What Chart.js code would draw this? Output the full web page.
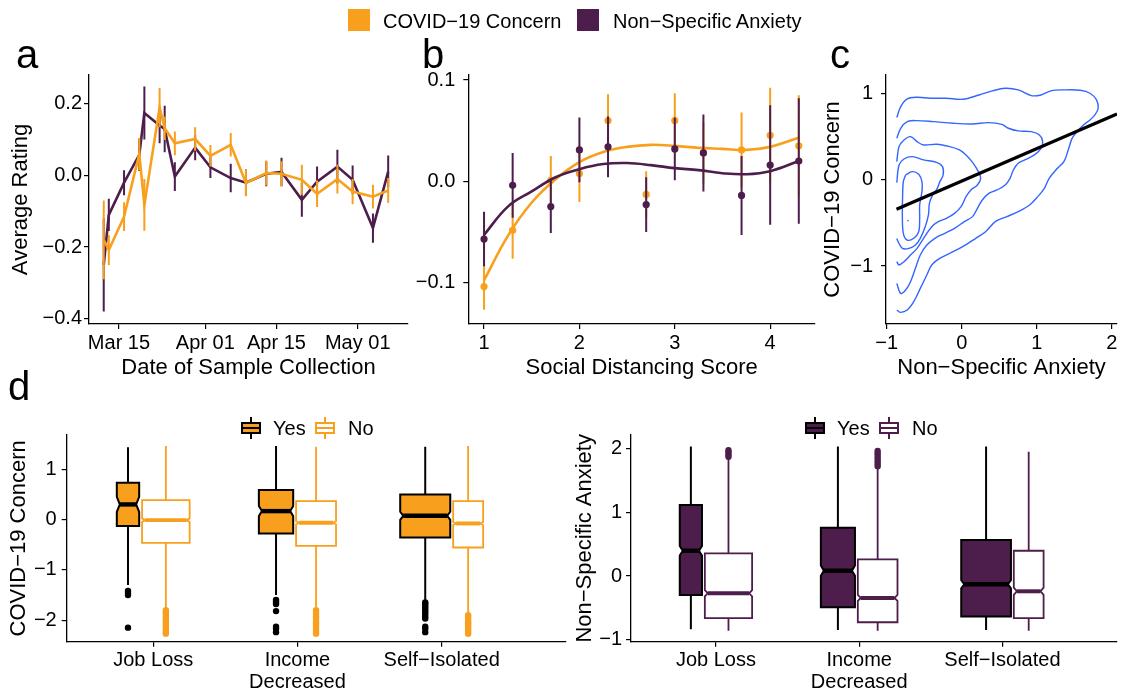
<!DOCTYPE html>
<html>
<head>
<meta charset="utf-8">
<script src="https://cdn.jsdelivr.net/npm/chart.js@4.4.0/dist/chart.umd.min.js"></script>
<style>
  body { margin: 0; background: #fff; }
  #fig { position: relative; width: 1121px; height: 692px; overflow: hidden; font-family: "Liberation Sans", Arial, Helvetica, sans-serif; color: #000; }
  #fig canvas { position: absolute; left: 0; top: 0; }
  .letter { position: absolute; font-size: 40px; line-height: 40px; }
  .txt { position: absolute; font-size: 20px; line-height: 22px; white-space: nowrap; }
  .sw { position: absolute; width: 22px; height: 22px; }
  .key { position: absolute; width: 20px; height: 22px; }
  .key .wh { position: absolute; left: 9px; top: 0; width: 2px; height: 22px; }
  .key .bx { position: absolute; left: 0; top: 5px; width: 16px; height: 8px; border: 2px solid; }
  .key .md { position: absolute; left: 2px; top: 10px; width: 16px; height: 2px; }
</style>
</head>
<body>
<div id="fig">
  <canvas id="chartA" width="1121" height="692"></canvas>
  <canvas id="chartB" width="1121" height="692"></canvas>
  <canvas id="chartC" width="1121" height="692"></canvas>
  <canvas id="chartD1" width="1121" height="692"></canvas>
  <canvas id="chartD2" width="1121" height="692"></canvas>

  <div class="sw" style="left:348px;top:9px;background:#F8A01D"></div>
  <div class="txt" style="left:383px;top:10px">COVID−19 Concern</div>
  <div class="sw" style="left:577px;top:9px;background:#4D1D4B"></div>
  <div class="txt" style="left:613px;top:10px">Non−Specific Anxiety</div>

  <div class="letter" style="left:16px;top:34px">a</div>
  <div class="letter" style="left:422px;top:34px">b</div>
  <div class="letter" style="left:830px;top:34px">c</div>
  <div class="letter" style="left:8px;top:366px">d</div>

  <div class="key" style="left:241px;top:417px"><div class="wh" style="background:#000"></div><div class="bx" style="background:#F8A01D;border-color:#000"></div><div class="md" style="background:#000"></div></div>
  <div class="txt" style="left:273px;top:417px">Yes</div>
  <div class="key" style="left:315px;top:417px"><div class="wh" style="background:#F8A01D"></div><div class="bx" style="background:#fff;border-color:#F8A01D"></div><div class="md" style="background:#F8A01D"></div></div>
  <div class="txt" style="left:348px;top:417px">No</div>

  <div class="key" style="left:805px;top:417px"><div class="wh" style="background:#000"></div><div class="bx" style="background:#4D1D4B;border-color:#000"></div><div class="md" style="background:#000"></div></div>
  <div class="txt" style="left:837px;top:417px">Yes</div>
  <div class="key" style="left:879px;top:417px"><div class="wh" style="background:#4D1D4B"></div><div class="bx" style="background:#fff;border-color:#4D1D4B"></div><div class="md" style="background:#4D1D4B"></div></div>
  <div class="txt" style="left:912px;top:417px">No</div>
</div>

<script>
// ---------- panel a : ratings by date of sample collection ----------
const sampleDates = ['2020-03-12', '2020-03-13', '2020-03-16', '2020-03-19', '2020-03-20', '2020-03-23', '2020-03-24',
  '2020-03-26', '2020-03-30', '2020-04-02', '2020-04-06', '2020-04-09', '2020-04-13', '2020-04-16', '2020-04-20',
  '2020-04-23', '2020-04-27', '2020-04-30', '2020-05-04', '2020-05-07'];
const covidByDate = [-0.18, -0.208, -0.115, 0.06, -0.082, 0.19, 0.132, 0.09, 0.102, 0.055, 0.086, -0.021, 0.007, 0.005,
  -0.012, -0.051, -0.01, -0.045, -0.059, -0.042];
const covidByDateSE = [0.11, 0.042, 0.04, 0.045, 0.072, 0.055, 0.033, 0.033, 0.033, 0.03, 0.033, 0.037, 0.035, 0.035,
  0.042, 0.037, 0.04, 0.035, 0.033, 0.035];
const anxietyByDate = [-0.25, -0.11, -0.02, 0.058, 0.175, 0.14, 0.13, -0.003, 0.078, 0.023, -0.007, -0.02, 0.005, 0.01,
  -0.068, -0.017, 0.025, -0.012, -0.147, 0.011];
const anxietyByDateSE = [0.13, 0.045, 0.035, 0.045, 0.074, 0.05, 0.065, 0.04, 0.035, 0.03, 0.04, 0.037, 0.035, 0.04,
  0.047, 0.042, 0.047, 0.04, 0.041, 0.045];
const dateTicks = ['2020-03-15', '2020-04-01', '2020-04-15', '2020-05-01'];
const dateTickLabels = ['Mar 15', 'Apr 01', 'Apr 15', 'May 01'];
const dateRange = ['2020-03-09', '2020-05-11'];
const ratingTicks = [-0.4, -0.2, 0, 0.2];

// ---------- panel b : ratings by social distancing score ----------
const distScores = [1, 1.3, 1.7, 2, 2.3, 2.7, 3, 3.3, 3.7, 4, 4.3];
const covidByDist = [-0.104, -0.0485, 0.001, 0.0076, 0.06, -0.013, 0.06, 0.028, 0.031, 0.0455, 0.035];
const covidByDistSE = [0.023, 0.028, 0.024, 0.028, 0.026, 0.023, 0.027, 0.03, 0.037, 0.047, 0.05];
const anxietyByDist = [-0.057, -0.004, -0.025, 0.031, 0.034, -0.023, 0.032, 0.028, -0.014, 0.016, 0.02];
const anxietyByDistSE = [0.027, 0.032, 0.026, 0.032, 0.03, 0.027, 0.031, 0.038, 0.039, 0.059, 0.062];
const smoothX = [1, 1.25, 1.5, 1.75, 2, 2.25, 2.5, 2.75, 3, 3.25, 3.5, 3.75, 4, 4.3];
const covidSmooth = [-0.098, -0.054, -0.021, 0.002, 0.019, 0.029, 0.034, 0.036, 0.035, 0.033, 0.032, 0.031, 0.034, 0.043];
const anxietySmooth = [-0.053, -0.025, -0.01, 0.004, 0.012, 0.017, 0.018, 0.016, 0.013, 0.011, 0.008, 0.007, 0.01, 0.02];
const distTicks = [1, 2, 3, 4];
const distRatingTicks = [-0.1, 0, 0.1];

// ---------- panel c : 2d density contours + linear fit ----------
const contour1 = [[-0.866, 0.725], [-0.814, 0.853], [-0.727, 0.942], [-0.596, 0.961], [-0.422, 0.95], [-0.205, 0.95],
  [0.013, 0.938], [0.231, 0.988], [0.405, 1.035], [0.579, 1.066], [0.753, 1.047], [0.927, 0.981], [1.057, 0.988],
  [1.188, 1.035], [1.362, 1.047], [1.58, 1.043], [1.71, 1.008], [1.797, 0.93], [1.819, 0.833], [1.775, 0.756],
  [1.71, 0.698], [1.623, 0.64], [1.536, 0.562], [1.471, 0.484], [1.427, 0.368], [1.362, 0.213], [1.275, 0.136],
  [1.166, 0.019], [1.101, -0.097], [1.014, -0.194], [0.905, -0.291], [0.753, -0.368], [0.601, -0.426], [0.448, -0.484],
  [0.318, -0.601], [0.187, -0.678], [0.013, -0.775], [-0.161, -0.853], [-0.292, -0.911], [-0.4, -0.988],
  [-0.466, -1.105], [-0.553, -1.26], [-0.64, -1.415], [-0.727, -1.512], [-0.814, -1.539], [-0.866, -1.512]];
const contour2 = [[-0.866, 0.484], [-0.814, 0.601], [-0.727, 0.678], [-0.596, 0.69], [-0.379, 0.678], [-0.117, 0.659],
  [0.144, 0.651], [0.361, 0.667], [0.535, 0.647], [0.622, 0.601], [0.753, 0.57], [0.927, 0.562], [1.036, 0.523],
  [1.079, 0.446], [1.057, 0.368], [0.97, 0.291], [0.84, 0.233], [0.753, 0.194], [0.688, 0.116], [0.644, 0.019],
  [0.579, -0.058], [0.47, -0.116], [0.361, -0.155], [0.274, -0.233], [0.209, -0.329], [0.144, -0.426], [0.035, -0.484],
  [-0.096, -0.562], [-0.226, -0.62], [-0.357, -0.678], [-0.466, -0.756], [-0.553, -0.872], [-0.618, -1.027],
  [-0.683, -1.182], [-0.748, -1.279], [-0.814, -1.318], [-0.866, -1.202]];
const contour3 = [[-0.866, 0.213], [-0.836, 0.388], [-0.77, 0.465], [-0.683, 0.504], [-0.596, 0.446], [-0.509, 0.407],
  [-0.335, 0.415], [-0.161, 0.388], [-0.03, 0.349], [0.057, 0.291], [0.144, 0.205], [0.222, 0.097], [0.252, 0.019],
  [0.209, -0.058], [0.122, -0.116], [0.057, -0.194], [-0.009, -0.31], [-0.096, -0.388], [-0.205, -0.446],
  [-0.313, -0.484], [-0.4, -0.543], [-0.509, -0.678], [-0.596, -0.795], [-0.683, -0.872], [-0.77, -0.95],
  [-0.836, -0.988], [-0.866, -0.95]];
const contour4 = [[-0.866, -0.03], [-0.836, 0.174], [-0.77, 0.244], [-0.661, 0.271], [-0.509, 0.233], [-0.335, 0.205],
  [-0.257, 0.155], [-0.248, 0.058], [-0.292, -0.019], [-0.326, -0.097], [-0.387, -0.174], [-0.431, -0.271],
  [-0.444, -0.407], [-0.487, -0.543], [-0.553, -0.678], [-0.618, -0.756], [-0.705, -0.795], [-0.792, -0.795],
  [-0.849, -0.717], [-0.866, -0.68]];
const contour5 = [[-0.748, 0.058], [-0.661, 0.097], [-0.574, 0.066], [-0.531, -0.019], [-0.531, -0.136],
  [-0.561, -0.291], [-0.561, -0.446], [-0.574, -0.601], [-0.64, -0.678], [-0.727, -0.698], [-0.779, -0.62],
  [-0.792, -0.407], [-0.788, -0.174], [-0.779, -0.019], [-0.748, 0.058]];
const densityPeak = [[-0.718, -0.473]];
const fitLine = [[-0.87, -0.341], [2.07, 0.767]];
const anxTicksC = [-1, 0, 1, 2];
const covidTicksC = [-1, 0, 1];

// ---------- panel d : boxplots by life event ----------
const eventLabels = ['Job Loss', ['Income', 'Decreased'], 'Self−Isolated'];
// [lower whisker, Q1, median, Q3, upper whisker]
const covidYesBox = [[-1.30, -0.126, 0.306, 0.739, 1.444], [-1.50, -0.273, 0.173, 0.592, 1.47], [-1.60, -0.353, 0.08, 0.506, 1.457]];
const covidNoBox = [[-1.77, -0.459, -0.007, 0.393, 1.47], [-1.74, -0.519, -0.06, 0.373, 1.457], [-1.87, -0.552, -0.073, 0.373, 1.47]];
const covidYesNotch = [0.15, 0.10, 0.08];
const covidNoNotch = [0.035, 0.03, 0.03];
const covidYesOut = [[-1.42, -1.46, -1.50, -2.15], [-1.60, -1.64, -1.68, -1.82, -2.13, -2.17, -2.24],
  [-1.65, -1.68, -1.72, -1.76, -1.80, -1.84, -1.88, -1.93, -1.97, -2.13, -2.17, -2.24]];
const covidNoOut = [[-1.80, -1.84, -1.88, -1.93, -1.97, -2.02, -2.06, -2.10, -2.15, -2.19, -2.23, -2.27],
  [-1.80, -1.84, -1.88, -1.93, -1.97, -2.02, -2.06, -2.10, -2.15, -2.19, -2.23, -2.27],
  [-1.90, -1.93, -1.97, -2.02, -2.06, -2.10, -2.15, -2.19, -2.23, -2.27]];
const anxYesBox = [[-0.835, -0.297, 0.396, 1.111, 2.03], [-0.845, -0.49, 0.083, 0.756, 2.03], [-0.845, -0.636, -0.13, 0.563, 2.03]];
const anxNoBox = [[-0.86, -0.662, -0.271, 0.355, 1.85], [-0.86, -0.725, -0.344, 0.26, 1.70], [-0.86, -0.662, -0.24, 0.396, 1.946]];
const anxYesNotch = [0.075, 0.08, 0.065];
const anxNoNotch = [0.05, 0.047, 0.057];
const anxYesOut = [[], [], []];
const anxNoOut = [[1.87, 1.90, 1.94, 1.97], [1.72, 1.76, 1.80, 1.84, 1.88, 1.92, 1.96], []];
const covidTicksD = [-2, -1, 0, 1];
const anxTicksD = [-1, 0, 1, 2];

// box widths (varwidth) in category units, and gap between the dodged boxes
const yesWidth = [0.155, 0.238, 0.347];
const noWidth = [0.33, 0.277, 0.208];
const dodgeGap = 0.02;

const FONT = '"Liberation Sans", Arial, Helvetica, sans-serif';
const ORANGE = '#F8A01D';
const PURPLE = '#4D1D4B';
const BLUE = '#3366FF';

Chart.defaults.font.family = FONT;
Chart.defaults.animation = false;
Chart.defaults.events = [];
Chart.defaults.plugins.legend.display = false;
Chart.defaults.plugins.tooltip.enabled = false;

function toDay(s) {
  const p = s.split('-').map(Number);
  return (Date.UTC(p[0], p[1] - 1, p[2]) - Date.UTC(2020, 2, 1)) / 864e5;
}
function fmt(d) {
  return v => (v < 0 ? '−' : '') + Math.abs(v).toFixed(d);
}

// axis with fixed box size so every panel lands where the figure has it
function axis(o) {
  return {
    type: 'linear', min: o.min, max: o.max,
    afterBuildTicks: s => { s.ticks = o.ticks.map(v => ({ value: v })); },
    afterFit: s => { if (s.isHorizontal()) s.height = o.size; else s.width = o.size; },
    grid: { drawOnChartArea: false, drawTicks: true, tickLength: 5, color: '#000', lineWidth: 1.2 },
    border: { display: true, color: '#000', width: 1.3 },
    ticks: {
      color: '#000', font: { family: FONT, size: 20, lineHeight: 1.1 }, padding: o.tickPad,
      maxRotation: 0, autoSkip: false,
      callback: o.labels ? (v, i) => o.labels[i] : o.fmt
    },
    title: {
      display: !!o.title, text: o.title || '', color: '#000', font: { family: FONT, size: 22 },
      padding: { top: o.titlePad || 0, bottom: o.titlePad || 0 }
    }
  };
}

const errorBarPlugin = {
  id: 'errorBars',
  afterDatasetDraw(chart, args) {
    const ds = chart.data.datasets[args.index];
    if (!ds.errorBars) return;
    const ys = chart.scales.y, ctx = chart.ctx;
    ctx.save();
    ctx.strokeStyle = ds.barColor;
    ctx.lineWidth = ds.errorBarWidth;
    ctx.beginPath();
    args.meta.data.forEach((pt, i) => {
      const v = ds.data[i].y, e = ds.errorBars[i];
      ctx.moveTo(pt.x, ys.getPixelForValue(v - e));
      ctx.lineTo(pt.x, ys.getPixelForValue(v + e));
    });
    ctx.stroke();
    ctx.restore();
  }
};

function pairs(xs, ys) { return xs.map((x, i) => ({ x: x, y: ys[i] })); }

// ---------- chart a ----------
const days = sampleDates.map(toDay);
new Chart(document.getElementById('chartA'), {
  type: 'scatter',
  data: {
    datasets: [
      { data: pairs(days, covidByDate), showLine: true, borderColor: ORANGE, borderWidth: 2.6, pointRadius: 0,
        errorBars: covidByDateSE, barColor: ORANGE, errorBarWidth: 2 },
      { data: pairs(days, anxietyByDate), showLine: true, borderColor: PURPLE, borderWidth: 2.6, pointRadius: 0,
        errorBars: anxietyByDateSE, barColor: PURPLE, errorBarWidth: 2 }
    ]
  },
  options: {
    responsive: false,
    layout: { padding: { left: 0, top: 75, right: 713, bottom: 308 } },
    scales: {
      x: axis({ min: toDay(dateRange[0]) + 0.1, max: toDay(dateRange[1]) - 0.1, ticks: dateTicks.map(toDay), labels: dateTickLabels,
        size: 60, tickPad: 3, title: 'Date of Sample Collection', titlePad: 2.8 }),
      y: axis({ min: -0.415, max: 0.281, ticks: ratingTicks, fmt: fmt(1), size: 89, tickPad: 2,
        title: 'Average Rating', titlePad: 7.8 })
    }
  },
  plugins: [errorBarPlugin]
});

// ---------- chart b ----------
new Chart(document.getElementById('chartB'), {
  type: 'scatter',
  data: {
    datasets: [
      { data: pairs(distScores, anxietyByDist), backgroundColor: PURPLE, pointRadius: 3.6, borderWidth: 0,
        errorBars: anxietyByDistSE, barColor: PURPLE, errorBarWidth: 2 },
      { data: pairs(smoothX, anxietySmooth), showLine: true, borderColor: PURPLE, borderWidth: 2.6, pointRadius: 0, tension: 0.4 },
      { data: pairs(distScores, covidByDist), backgroundColor: ORANGE, pointRadius: 3.6, borderWidth: 0,
        errorBars: covidByDistSE, barColor: ORANGE, errorBarWidth: 2 },
      { data: pairs(smoothX, covidSmooth), showLine: true, borderColor: ORANGE, borderWidth: 2.6, pointRadius: 0, tension: 0.4 }
    ]
  },
  options: {
    responsive: false,
    layout: { padding: { left: 400, top: 75, right: 306, bottom: 308 } },
    scales: {
      x: axis({ min: 0.835, max: 4.47, ticks: distTicks, fmt: fmt(0), size: 60, tickPad: 3,
        title: 'Social Distancing Score', titlePad: 2.8 }),
      y: axis({ min: -0.141, max: 0.105, ticks: distRatingTicks, fmt: fmt(1), size: 68.3, tickPad: 8 })
    }
  },
  plugins: [errorBarPlugin]
});

// ---------- chart c ----------
const contourStyle = { showLine: true, borderColor: BLUE, borderWidth: 1.4, pointRadius: 0, tension: 0.35 };
const xy = a => a.map(p => ({ x: p[0], y: p[1] }));
new Chart(document.getElementById('chartC'), {
  type: 'scatter',
  data: {
    datasets: [
      { data: xy(fitLine), showLine: true, borderColor: '#000', borderWidth: 3.4, pointRadius: 0 },
      Object.assign({ data: xy(contour1) }, contourStyle),
      Object.assign({ data: xy(contour2) }, contourStyle),
      Object.assign({ data: xy(contour3) }, contourStyle),
      Object.assign({ data: xy(contour4) }, contourStyle),
      Object.assign({ data: xy(contour5) }, contourStyle),
      { data: xy(densityPeak), backgroundColor: BLUE, pointRadius: 0.8, borderWidth: 0 }
    ]
  },
  options: {
    responsive: false,
    layout: { padding: { left: 816, top: 75, right: 0, bottom: 308 } },
    scales: {
      x: axis({ min: -1.01, max: 2.07, ticks: anxTicksC, fmt: fmt(0), size: 60, tickPad: 3,
        title: 'Non−Specific Anxiety', titlePad: 2.8 }),
      y: axis({ min: -1.674, max: 1.22, ticks: covidTicksC, fmt: fmt(0), size: 70, tickPad: 8,
        title: 'COVID−19 Concern', titlePad: 3.3 })
    }
  }
});

// ---------- chart d (two boxplot panels) ----------
function boxLayout(i) {
  const c = i + 1, total = yesWidth[i] + dodgeGap + noWidth[i];
  const y0 = c - total / 2, y1 = y0 + yesWidth[i];
  const n0 = y1 + dodgeGap, n1 = n0 + noWidth[i];
  return { yes: [y0, y1], no: [n0, n1] };
}

function makeBoxPlugin(items) {
  return {
    id: 'boxes',
    beforeDatasetsDraw(chart) {
      const xs = chart.scales.x, ys = chart.scales.y, ctx = chart.ctx;
      items.forEach(b => {
        const [lo, q1, med, q3, hi] = b.stats;
        const x0 = xs.getPixelForValue(b.span[0]), x1 = xs.getPixelForValue(b.span[1]), xc = (x0 + x1) / 2;
        const inset = 3;
        const p = v => ys.getPixelForValue(v);
        ctx.save();
        ctx.strokeStyle = b.stroke;
        ctx.lineWidth = b.lw;
        ctx.beginPath();
        ctx.moveTo(xc, p(q3)); ctx.lineTo(xc, p(hi));
        ctx.moveTo(xc, p(q1)); ctx.lineTo(xc, p(lo));
        ctx.stroke();
        ctx.beginPath();
        ctx.moveTo(x0, p(q3));
        ctx.lineTo(x0, p(med + b.notch));
        ctx.lineTo(x0 + inset, p(med));
        ctx.lineTo(x0, p(med - b.notch));
        ctx.lineTo(x0, p(q1));
        ctx.lineTo(x1, p(q1));
        ctx.lineTo(x1, p(med - b.notch));
        ctx.lineTo(x1 - inset, p(med));
        ctx.lineTo(x1, p(med + b.notch));
        ctx.lineTo(x1, p(q3));
        ctx.closePath();
        ctx.fillStyle = b.fill;
        ctx.fill();
        ctx.lineJoin = 'miter';
        ctx.stroke();
        ctx.beginPath();
        ctx.lineWidth = b.lw * 2.2;
        ctx.moveTo(x0 + inset, p(med));
        ctx.lineTo(x1 - inset, p(med));
        ctx.stroke();
        ctx.restore();
      });
    }
  };
}

function boxPanel(id, cfg) {
  const items = [], datasets = [];
  eventLabels.forEach((_, i) => {
    const L = boxLayout(i);
    items.push({ span: L.yes, stats: cfg.yesBox[i], notch: cfg.yesNotch[i], fill: cfg.color, stroke: '#000', lw: 2 });
    items.push({ span: L.no, stats: cfg.noBox[i], notch: cfg.noNotch[i], fill: '#fff', stroke: cfg.color, lw: 1.8 });
    const cy = (L.yes[0] + L.yes[1]) / 2, cn = (L.no[0] + L.no[1]) / 2;
    datasets.push({ data: cfg.yesOut[i].map(v => ({ x: cy, y: v })), backgroundColor: '#000', pointRadius: 3.2, borderWidth: 0 });
    datasets.push({ data: cfg.noOut[i].map(v => ({ x: cn, y: v })), backgroundColor: cfg.color, pointRadius: 3.2, borderWidth: 0 });
  });
  new Chart(document.getElementById(id), {
    type: 'scatter',
    data: { datasets: datasets },
    options: {
      responsive: false,
      layout: { padding: cfg.padding },
      scales: {
        x: axis({ min: cfg.xRange[0], max: cfg.xRange[1], ticks: [1, 2, 3], labels: eventLabels, size: 50.3, tickPad: 3 }),
        y: axis({ min: cfg.yRange[0], max: cfg.yRange[1], ticks: cfg.yTicks, fmt: fmt(0), size: cfg.ySize, tickPad: cfg.tickPad,
          title: cfg.title, titlePad: cfg.titlePad })
      }
    },
    plugins: [makeBoxPlugin(items)]
  });
}

boxPanel('chartD1', {
  yesBox: covidYesBox, noBox: covidNoBox, yesNotch: covidYesNotch, noNotch: covidNoNotch,
  yesOut: covidYesOut, noOut: covidNoOut, color: ORANGE,
  xRange: [0.4, 3.86], yRange: [-2.43, 1.69], yTicks: covidTicksD,
  padding: { left: 0, top: 435, right: 1121 - 565.7, bottom: 0 }, ySize: 66.7, tickPad: 5,
  title: 'COVID−19 Concern', titlePad: 5.3
});
boxPanel('chartD2', {
  yesBox: anxYesBox, noBox: anxNoBox, yesNotch: anxYesNotch, noNotch: anxNoNotch,
  yesOut: anxYesOut, noOut: anxNoOut, color: PURPLE,
  xRange: [0.407, 3.8], yRange: [-1.03, 2.21], yTicks: anxTicksD,
  padding: { left: 571, top: 435, right: 0, bottom: 0 }, ySize: 60, tickPad: 4,
  title: 'Non−Specific Anxiety', titlePad: 0.5
});
</script>
</body>
</html>
